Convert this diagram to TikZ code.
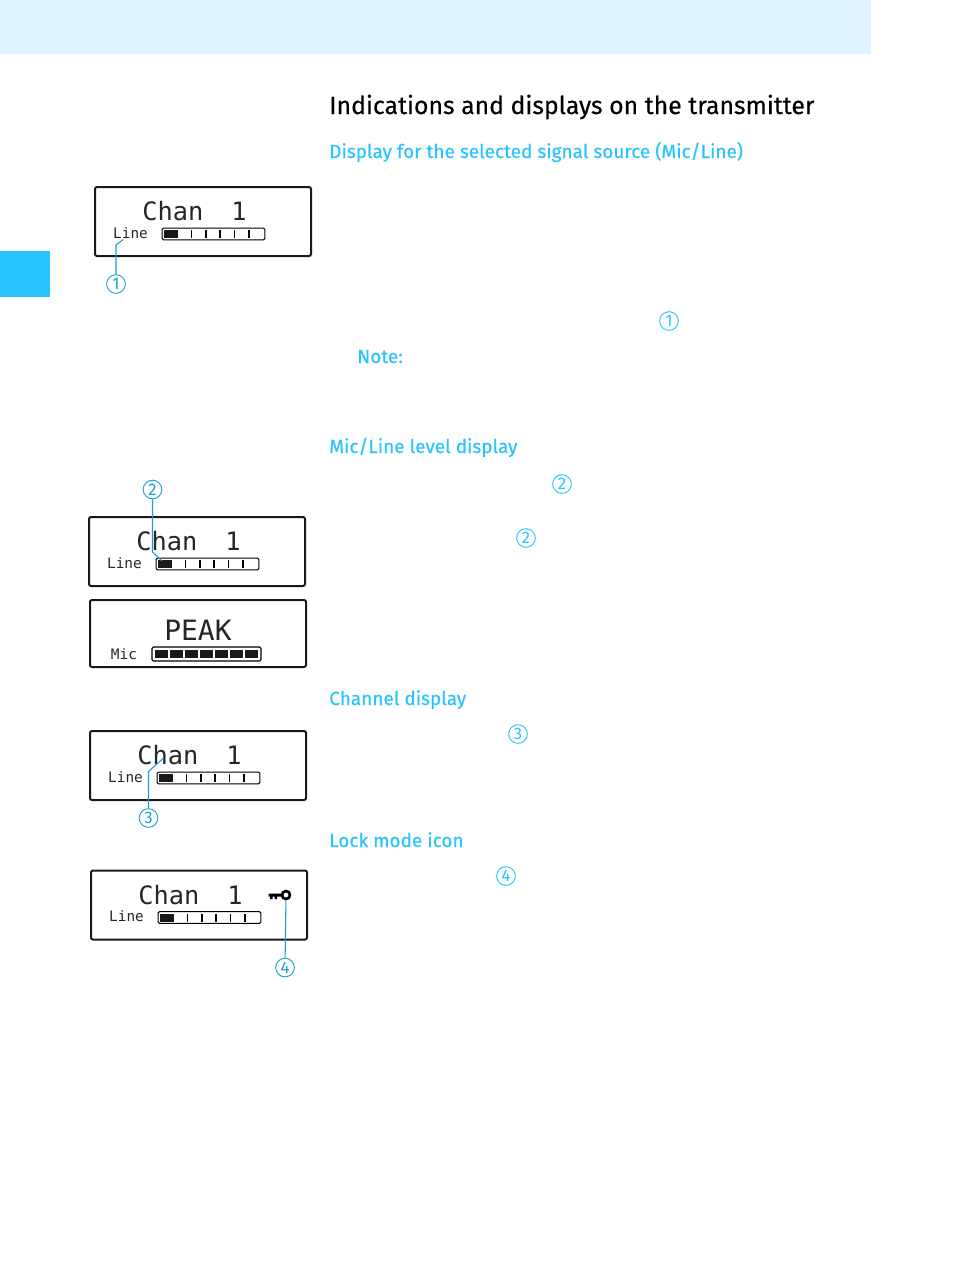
\documentclass[tikz,border=0pt]{standalone}
\usepackage{fontspec}
\setmainfont{Fira Sans}
\newfontfamily\lcdfont{DejaVu Sans Mono}
\newfontfamily\headfont[FakeBold=0.35]{Fira Sans}
\newfontfamily\ringfont{Fira Sans}
\definecolor{bandcyan}{HTML}{DDF4FF}
\definecolor{headcyan}{HTML}{29C3FF}
\definecolor{leadblue}{HTML}{1B9DD3}
\tikzset{
  lcdframe/.style={draw=black!90,line width=1.5pt,rounded corners=1.5pt,minimum width=162pt,minimum height=51.75pt,inner sep=0pt},
  lcdbar/.style={draw=black,line width=0.8pt,rounded corners=1pt,minimum width=77pt,minimum height=8.8pt,inner sep=0pt},
  lcdbig/.style={font=\lcdfont\fontsize{19}{19}\selectfont,text=black!85,inner sep=0pt},
  lcdsmall/.style={font=\lcdfont\fontsize{10.8}{10.8}\selectfont,text=black!85,inner sep=0pt},
  lcdcell/.style={fill=black!90,draw=none},
  heading/.style={anchor=base west,inner sep=0pt,font=\headfont\fontsize{14.25}{16}\selectfont,text=headcyan},
  numring/.style={circle,draw=leadblue,line width=0.7pt,minimum size=14pt,inner sep=0pt,text=leadblue,font=\ringfont\fontsize{12.5}{12.5}\selectfont},
  numtext/.style={numring,draw=headcyan,text=headcyan},
  leadline/.style={draw=leadblue,line width=0.8pt}
}
\newcommand{\lcdchan}[3]{
  \begin{scope}[shift={(#2,#3)}]
    \node[lcdframe] (#1frame) at (203,221.5) {};
    \node[lcdbig] (#1chan) at (194.5,211.5) {Chan\ \ \kern-2pt 1};
    \node[lcdsmall] (#1line) at (130.5,233) {Line};
    \node[lcdbar] (#1bar) at (213.5,234) {};
    \fill[lcdcell] (164,230) rectangle (178,238);
    \foreach \tickx in {191.7,206,220,234.7,249}
      \draw[line width=0.8pt] (\tickx,230) -- (\tickx,238);
  \end{scope}
}
\begin{document}
\begin{tikzpicture}[x=0.75pt,y=-0.75pt]
  \useasboundingbox (0,0) rectangle (954,1285);
  % page furniture
  \fill[bandcyan] (0,0) rectangle (871,53.5);
  \fill[headcyan] (0,251) rectangle (50,297);
  % texts on the right
  \node[anchor=base west,inner sep=0pt,font=\headfont\fontsize{18.6}{20}\selectfont] (title) at (329,114) {Indications and displays on the transmitter};
  \node[heading] (source) at (329,158) {Display for the selected signal source (Mic/Line)};
  \node[heading] (note) at (357,363) {Note:};
  \node[heading] (level) at (329,453) {Mic/Line level display};
  \node[heading] (channel) at (329,705) {Channel display};
  \node[heading] (lock) at (329,847) {Lock mode icon};
  \node[numtext] (r1) at (669,321) {1};
  \node[numtext] (r2) at (562,484) {2};
  \node[numtext] (r3) at (526,538) {2};
  \node[numtext] (r4) at (518,734) {3};
  \node[numtext] (r5) at (506,876) {4};
  % the displays
  \lcdchan{a}{0}{0}
  \lcdchan{b}{-6}{330}
  \lcdchan{c}{-5}{544}
  \lcdchan{d}{-4}{683.5}
  \node[lcdframe,minimum height=50.25pt] (pframe) at (198,633.5) {};
  \node[lcdbig,font=\lcdfont\fontsize{21}{21}\selectfont] (peak) at (198,630) {PEAK};
  \node[lcdsmall] (mic) at (124,654.5) {Mic};
  \node[lcdbar,minimum width=81.75pt,minimum height=10.5pt] (pbar) at (206.5,654) {};
  \foreach \cellx in {155,170,185,200,215,230,245}
    \fill[lcdcell] (\cellx,650) rectangle ++(12.5,8);
  % key icon
  \node[circle,draw=black,line width=2pt,minimum size=6pt,inner sep=0pt] (keyring) at (286,895) {};
  \fill[black] (268.5,893.5) rectangle (282,896.5) (270,896) rectangle (272.5,899) (274.5,896) rectangle (277,899);
  % number rings and their leaders
  \node[numring] (n1) at (116,284) {1};
  \node[numring] (n2) at (152.5,489.5) {2};
  \node[numring] (n3) at (148.5,818) {3};
  \node[numring] (n4) at (285,967.5) {4};
  \coordinate (k1) at (116,245);
  \coordinate (t1) at (123.3,239.5);
  \coordinate (k2) at (152.5,552);
  \coordinate (t2) at (162,561);
  \coordinate (k3) at (148.5,771.5);
  \coordinate (t3) at (163.5,758);
  \begin{scope}[leadline]
    \draw (n1) -- (k1) -- (t1);
    \draw (n2) -- (k2) -- (t2);
    \draw (n3) -- (k3) -- (t3);
    \draw (n4) -- (keyring);
  \end{scope}
\end{tikzpicture}
\end{document}
